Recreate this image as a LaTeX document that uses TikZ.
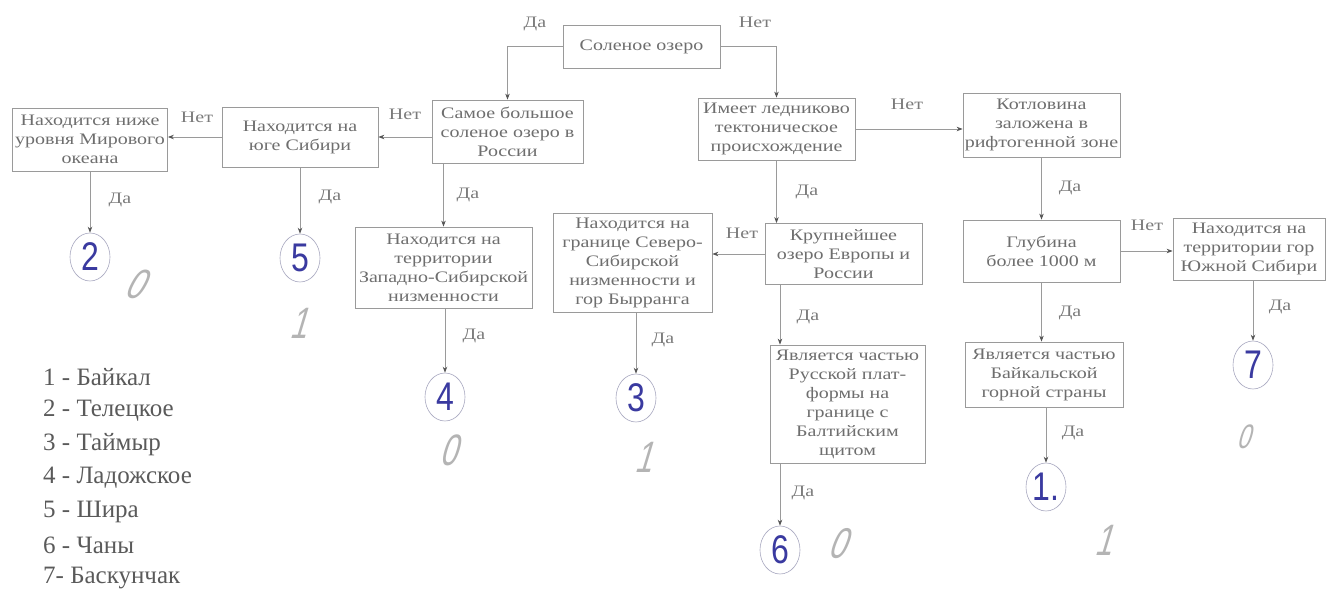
\documentclass[tikz,border=0pt]{standalone}
\usepackage{fontspec}
\setmainfont{Liberation Serif}
\newfontfamily\boxfont{Liberation Serif}[FakeStretch=1.25]
\newfontfamily\handfont{Liberation Sans}[FakeSlant=0.3,FakeStretch=0.7]
\newfontfamily\penfont{Liberation Sans}[FakeStretch=0.8]
\usetikzlibrary{arrows.meta,shapes.geometric}
\definecolor{linegray}{HTML}{9A9A9A}
\definecolor{tipgray}{HTML}{555555}
\definecolor{textgray}{HTML}{6E6E6E}
\definecolor{labelgray}{HTML}{7A7A7A}
\definecolor{legendgray}{HTML}{5A5A5A}
\definecolor{circgray}{HTML}{A8A8C0}
\definecolor{penblue}{HTML}{3A3AA0}
\definecolor{pencil}{HTML}{B4B4B4}
\tikzset{
  box/.style={draw=linegray, line width=0.8pt, inner sep=1pt, align=center,
    text=textgray, font=\boxfont\fontsize{16}{19}\selectfont},
  bx/.style n args={2}{box, minimum width=#1pt, minimum height=#2pt},
  arr/.style={draw=linegray, line width=0.8pt,
    -{Stealth[length=6pt,width=4.5pt,color=tipgray]}},
  lbl/.style={text=labelgray, font=\boxfont\fontsize{16}{19}\selectfont, inner sep=0pt},
  circ/.style={ellipse, draw=circgray, line width=0.6pt, minimum width=40pt,
    minimum height=48pt, inner sep=0pt, text=penblue,
    font=\penfont\fontsize{40}{40}\selectfont},
  score/.style={text=pencil, inner sep=0pt, font=\handfont\fontsize{44}{44}\selectfont},
  legend/.style={anchor=west, text=legendgray, inner sep=0pt,
    font=\fontsize{25}{30}\selectfont}
}
\begin{document}
\begin{tikzpicture}[x=1pt,y=-1pt]
\useasboundingbox[fill=white] (0,0) rectangle (1326,589);

% boxes
\node[bx={157}{43}] (root) at (641.5,46.5) {Соленое озеро};
\node[bx={151}{63}] (samoe) at (507.5,131.5) {Самое большое\\соленое озеро в\\России};
\node[bx={157}{62}] (imeet) at (776.5,129) {Имеет ледниково\\тектоническое\\происхождение};
\node[bx={156}{60}] (yug) at (300,137) {Находится на\\юге Сибири};
\node[bx={155}{63}] (nizhe) at (90,139.5) {Находится ниже\\уровня Мирового\\океана};
\node[bx={177}{81}] (zapsib) at (443.5,267.5) {Находится на\\территории\\Западно-Сибирской\\низменности};
\node[bx={159}{99}] (byrr) at (632.5,262.5) {Находится на\\границе Северо-\\Сибирской\\низменности и\\гор Бырранга};
\node[bx={157}{61}] (krup) at (843.5,254) {Крупнейшее\\озеро Европы и\\России};
\node[bx={157}{64}] (kotl) at (1041.5,125) {Котловина\\заложена в\\рифтогенной зоне};
\node[bx={157}{62}] (glub) at (1041.5,251) {Глубина\\более 1000 м};
\node[bx={152}{62}] (yuzh) at (1249,249) {Находится на\\территории гор\\Южной Сибири};
\node[bx={155}{118}] (russk) at (847.5,404) {Является частью\\Русской плат-\\формы на\\границе с\\Балтийским\\щитом};
\node[bx={158}{65}] (baik) at (1044,374.5) {Является частью\\Байкальской\\горной страны};

% answer circles
\node[circ] (c2) at (90,257) {2};
\node[circ] (c5) at (300,258) {5};
\node[circ] (c4) at (445,397) {4};
\node[circ] (c3) at (636,398) {3};
\node[circ] (c6) at (780,550) {6};
\node[circ] (c1) at (1046,487) {1.};
\node[circ] (c7) at (1253,365) {7};

% connectors
\draw[arr] (root.west) -| (samoe.north);
\draw[arr] (root.east) -| (imeet.north);
\draw[arr] (samoe.west |- yug.east) -- (yug.east);
\draw[arr] (yug.west) -- (yug.west -| nizhe.east);
\draw[arr] (nizhe.south -| c2.north) -- (c2.north);
\draw[arr] (yug.south) -- (c5.north);
\draw[arr] (samoe.south -| zapsib.north) -- (zapsib.north);
\draw[arr] (zapsib.south -| c4.north) -- (c4.north);
\draw[arr] (imeet.south) -- (imeet.south |- krup.north);
\draw[arr] (krup.west) -- (krup.west -| byrr.east);
\draw[arr] (byrr.south -| c3.north) -- (c3.north);
\draw[arr] (krup.south -| c6.north) -- (c6.north |- russk.north);
\draw[arr] (russk.south -| c6.north) -- (c6.north);
\draw[arr] (imeet.east) -- (imeet.east -| kotl.west);
\draw[arr] (kotl.south) -- (glub.north);
\draw[arr] (glub.east) -- (glub.east -| yuzh.west);
\draw[arr] (glub.south) -- (glub.south |- baik.north);
\draw[arr] (baik.south -| c1.north) -- (c1.north);
\draw[arr] (yuzh.south -| c7.north) -- (c7.north);

% labels
\node[lbl] (l1) at (535,24) {Да};
\node[lbl] (l2) at (755,22) {Нет};
\node[lbl] (l3) at (405,114) {Нет};
\node[lbl] (l4) at (197,117) {Нет};
\node[lbl] (l5) at (120,200) {Да};
\node[lbl] (l6) at (330,197) {Да};
\node[lbl] (l7) at (468,195) {Да};
\node[lbl] (l8) at (807,192) {Да};
\node[lbl] (l9) at (742,233) {Нет};
\node[lbl] (l10) at (474,336) {Да};
\node[lbl] (l11) at (663,340) {Да};
\node[lbl] (l12) at (808,317) {Да};
\node[lbl] (l13) at (803,493) {Да};
\node[lbl] (l14) at (907,104) {Нет};
\node[lbl] (l15) at (1070,188) {Да};
\node[lbl] (l16) at (1147,225) {Нет};
\node[lbl] (l17) at (1070,313) {Да};
\node[lbl] (l18) at (1073,433) {Да};
\node[lbl] (l19) at (1280,307) {Да};

% handwritten scores
\node[score, rotate=-12] (s2) at (135,283) {0};
\node[score] (s5) at (298,323) {1};
\node[score] (s4) at (448,450) {0};
\node[score] (s3) at (643,457) {1};
\node[score, rotate=-5] (s6) at (837,543) {0};
\node[score] (s1) at (1103,540) {1};
\node[score, font=\handfont\fontsize{34}{34}\selectfont] (s7) at (1243,437) {0};

% legend
\node[legend] (g1) at (43,377) {1 - Байкал};
\node[legend] (g2) at (43,411) {2 - Телецкое};
\node[legend] (g3) at (43,445) {3 - Таймыр};
\node[legend] (g4) at (43,478) {4 - Ладожское};
\node[legend] (g5) at (43,512) {5 - Шира};
\node[legend] (g6) at (43,545) {6 - Чаны};
\node[legend] (g7) at (43,578) {7- Баскунчак};
\end{tikzpicture}
\end{document}
